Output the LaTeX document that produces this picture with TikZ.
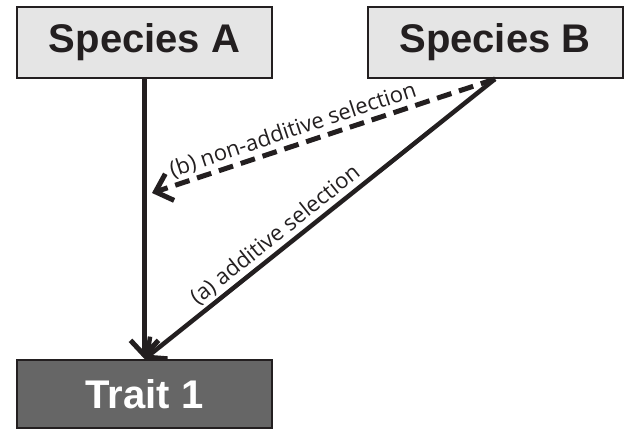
\documentclass[tikz,border=0pt]{standalone}
\usepackage{fontspec}
\setmainfont{Open Sans}
\newfontfamily\boxfont{Liberation Sans}
\usepackage{tikz}
\usetikzlibrary{arrows.meta}
\definecolor{ink}{HTML}{231F20}

\begin{document}
\begin{tikzpicture}[
  x=1pt, y=-1pt,
  species/.style={rectangle, draw=ink, line width=2pt, fill=black!10,
    minimum width=255pt, minimum height=71pt, font=\boxfont\bfseries\fontsize{40}{43}\selectfont, text=ink},
  trait/.style={species, fill=black!60, minimum height=68pt, text=white},
  arr/.style={ink, line width=5pt, -{Straight Barb[length=15pt, width=28pt]}},
  lbl/.style={sloped, above, font=\fontsize{22}{25}\selectfont, text=ink, inner sep=2.5pt}
]
  \useasboundingbox (0,0) rectangle (624,430);

  \node[species] (spa) at (144.5, 42.5) {Species A};
  \node[species] (spb) at (495, 42.5) {Species B};
  \node[trait] (trait) at (144.5, 394) {Trait 1};
  \coordinate (hit) at (152, 193);

  \draw[arr] (spa.south) -- (trait.north);

  \draw[arr, dash pattern=on 15pt off 8pt] (spb.south) --
    node[lbl, pos=0.575] {(b) non-additive selection} (hit);

  \draw[arr, line width=4.5pt] (spb.south) --
    node[lbl, pos=0.6] {(a) additive selection} (trait.north);
\end{tikzpicture}
\end{document}
